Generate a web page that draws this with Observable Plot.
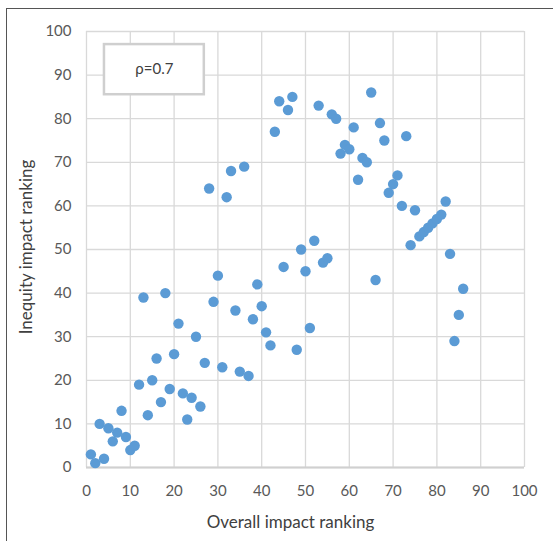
<!DOCTYPE html>
<html>
<head>
<meta charset="utf-8">
<script src="https://cdn.jsdelivr.net/npm/d3@7"></script>
<script src="https://cdn.jsdelivr.net/npm/@observablehq/plot@0.6"></script>
<style>
  html, body { margin: 0; padding: 0; background: white; }
  #wrap { position: relative; width: 553px; height: 541px; overflow: hidden; }
  #frame { position: absolute; left: 6px; top: 8px; width: 600px; height: 600px;
           border-left: 1.5px solid #555; border-top: 1.5px solid #555; box-sizing: border-box; pointer-events: none; }
  #chart { position: absolute; left: 0; top: 0; }
</style>
</head>
<body>
<div id="wrap"><div id="chart"></div><div id="frame"></div></div>
<script>
// Overall impact ranking (x) and inequity impact ranking (y), one entry per item
const overallRank = [1,2,3,4,5,6,7,8,9,10,11,12,13,14,15,16,17,18,19,20,21,22,23,24,25,26,27,28,29,30,
  31,32,33,34,35,36,37,38,39,40,41,42,43,44,45,46,47,48,49,50,51,52,53,54,55,56,57,58,59,60,
  61,62,63,64,65,66,67,68,69,70,71,72,73,74,75,76,77,78,79,80,81,82,83,84,85,86];
const inequityRank = [3,1,10,2,9,6,8,13,7,4,5,19,39,12,20,25,15,40,18,26,33,17,11,16,30,14,24,64,38,44,
  23,62,68,36,22,69,21,34,42,37,31,28,77,84,46,82,85,27,50,45,32,52,83,47,48,81,80,72,74,73,
  78,66,71,70,86,43,79,75,63,65,67,60,76,51,59,53,54,55,56,57,58,61,49,29,35,41];
const xTicks = [0,10,20,30,40,50,60,70,80,90,100];
const yTicks = [0,10,20,30,40,50,60,70,80,90,100];
const xTitle = "Overall impact ranking";
const yTitle = "Inequity impact ranking";
const note = [{x1: 4.1, x2: 26.9, y1: 85.5, y2: 97, label: "ρ=0.7"}];

const points = overallRank.map((x, i) => ({x, y: inequityRank[i]}));

const chart = Plot.plot({
  width: 553,
  height: 541,
  marginLeft: 86,
  marginRight: 29,
  marginTop: 31,
  marginBottom: 74,
  x: {domain: [0, 100]},
  y: {domain: [0, 100]},
  style: {fontFamily: "Lato, 'Open Sans', sans-serif", fontSize: "15px", color: "#595959", background: "white"},
  marks: [
    Plot.gridX(xTicks, {stroke: "#d9d9d9", strokeOpacity: 1, strokeWidth: 1.3}),
    Plot.gridY(yTicks, {stroke: "#d9d9d9", strokeOpacity: 1, strokeWidth: 1.3}),
    Plot.ruleY([0], {stroke: "#d0d0d0", strokeWidth: 2}),
    Plot.axisX(xTicks, {tickSize: 0, tickPadding: 18, label: null, fill: "#595959"}),
    Plot.axisY(yTicks, {tickSize: 0, tickPadding: 15, label: null, fill: "#595959"}),
    Plot.rect(note, {x1: "x1", x2: "x2", y1: "y1", y2: "y2", fill: "white", stroke: "#cfcfcf", strokeWidth: 2.5}),
    Plot.text(note, {x: d => (d.x1 + d.x2) / 2, y: d => (d.y1 + d.y2) / 2, text: "label", fontSize: 15, fill: "#404040"}),
    Plot.dot(points, {x: "x", y: "y", r: 5.2, fill: "#5b9bd5", stroke: "none"})
  ]
});

const svg = d3.select(chart);
svg.append("text")
  .attr("x", 290.5).attr("y", 528)
  .attr("text-anchor", "middle")
  .attr("font-family", "Lato, 'Open Sans', sans-serif")
  .attr("font-size", 17)
  .attr("fill", "#404040")
  .text(xTitle);
svg.append("text")
  .attr("transform", "translate(31.5,247) rotate(-90)")
  .attr("text-anchor", "middle")
  .attr("font-family", "Lato, 'Open Sans', sans-serif")
  .attr("font-size", 17)
  .attr("fill", "#404040")
  .text(yTitle);

document.getElementById("chart").appendChild(chart);
</script>
</body>
</html>
